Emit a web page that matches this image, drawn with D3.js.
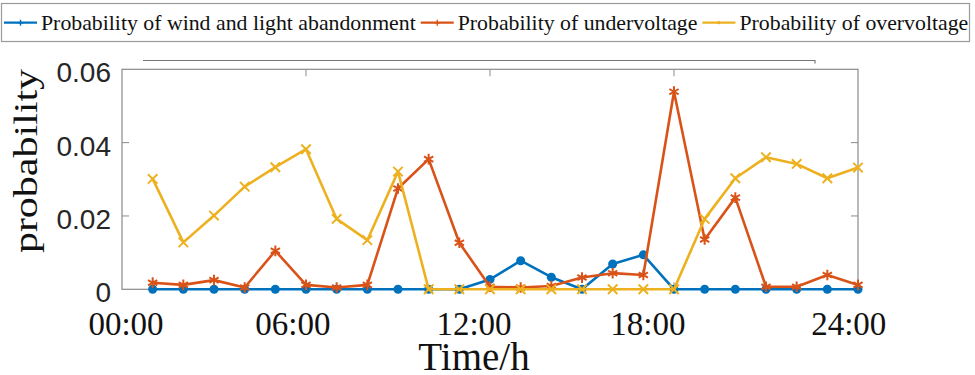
<!DOCTYPE html>
<html>
<head>
<meta charset="utf-8">
<script src="https://cdn.jsdelivr.net/npm/d3@7"></script>
<style>
body { margin: 0; background: #fff; }
</style>
</head>
<body>
<div id="chart"></div>
<script>
// hourly points, 1h .. 24h
var hours = [1, 2, 3, 4, 5, 6, 7, 8, 9, 10, 11, 12, 13, 14, 15, 16, 17, 18, 19, 20, 21, 22, 23, 24];
var abandon = [0, 0, 0, 0, 0, 0, 0, 0, 0, 0, 0, 0.0027, 0.0078, 0.0033, 0, 0.0069, 0.0094, 0, 0, 0, 0, 0, 0, 0];
var under = [0.0018, 0.0012, 0.0025, 0.0005, 0.0105, 0.0012, 0.0005, 0.0012, 0.0275, 0.0355, 0.0127, 0.0007,
    0.0005, 0.0009, 0.0032, 0.0044, 0.0039, 0.0539, 0.0136, 0.025, 0.0007, 0.0007, 0.0039, 0.0012];
var over = [0.0301, 0.0128, 0.0201, 0.028, 0.0333, 0.0382, 0.0192, 0.0134, 0.0321, 0, 0, 0,
    0, 0, 0, 0, 0, 0, 0.0192, 0.0303, 0.036, 0.0342, 0.0303, 0.0332];
var seriesNames = ["Probability of wind and light abandonment", "Probability of undervoltage", "Probability of overvoltage"];
var yTicks = [0, 0.02, 0.04, 0.06];
var yTickLabels = ["0", "0.02", "0.04", "0.06"];
var frameTicks = [6, 12, 18];
// the time labels sit a little off the grid in the original figure
var timeLabelPos = [0.13, 5.57, 11.48, 17.15, 23.7];
var timeLabels = ["00:00", "06:00", "12:00", "18:00", "24:00"];

function main() {
    var width = 975, height = 375;
    var colors = ["#0072BD", "#D95319", "#EDB120"];
    var serif = "'Liberation Serif', 'Times New Roman', serif";

    var svg = d3.select("#chart").append("svg")
        .attr("width", width)
        .attr("height", height);

    var x = d3.scaleLinear().domain([0, 24]).range([122, 858]);
    var y = d3.scaleLinear().domain([0, 0.06]).range([289.3, 69.3]);

    // stray line above the axes
    svg.append("path")
        .attr("d", "M143,60.5H815V63.5")
        .attr("fill", "none")
        .attr("stroke", "#777")
        .attr("stroke-width", 1.2);

    // axes box
    svg.append("rect")
        .attr("x", x(0)).attr("y", y(0.06))
        .attr("width", x(24) - x(0)).attr("height", y(0) - y(0.06))
        .attr("fill", "none")
        .attr("stroke", "#8a8a8a")
        .attr("stroke-width", 1.2);

    var tk = svg.append("g").attr("stroke", "#8a8a8a").attr("stroke-width", 1);
    frameTicks.forEach(function (h) {
        tk.append("line").attr("x1", x(h)).attr("x2", x(h)).attr("y1", y(0.06)).attr("y2", y(0.06) + 7);
        tk.append("line").attr("x1", x(h)).attr("x2", x(h)).attr("y1", y(0)).attr("y2", y(0) - 7);
    });
    yTicks.slice(1, 3).forEach(function (v) {
        tk.append("line").attr("x1", x(0)).attr("x2", x(0) + 7).attr("y1", y(v)).attr("y2", y(v));
        tk.append("line").attr("x1", x(24)).attr("x2", x(24) - 7).attr("y1", y(v)).attr("y2", y(v));
    });

    // y tick labels
    svg.append("g").selectAll("text")
        .data(yTicks)
        .enter().append("text")
        .attr("x", 111)
        .attr("y", function (d) { return y(d) + 13; })
        .attr("text-anchor", "end")
        .style("font-family", "'Liberation Sans', Arial, sans-serif")
        .style("font-size", "28px")
        .style("fill", "#262626")
        .text(function (d, i) { return yTickLabels[i]; });

    // x tick labels
    svg.append("g").selectAll("text")
        .data(timeLabelPos)
        .enter().append("text")
        .attr("x", function (d) { return x(d); })
        .attr("y", 335)
        .attr("text-anchor", "middle")
        .style("font-family", serif)
        .style("font-size", "33px")
        .style("fill", "#111")
        .text(function (d, i) { return timeLabels[i]; });

    svg.append("text")
        .attr("x", 474).attr("y", 370)
        .attr("text-anchor", "middle")
        .style("font-family", serif)
        .style("font-size", "39px")
        .style("fill", "#111")
        .text("Time/h");

    // y title is squashed across its baseline in the original
    svg.append("text")
        .attr("transform", "translate(37,161) rotate(-90) scale(1,0.8)")
        .attr("text-anchor", "middle")
        .style("font-family", serif)
        .style("font-size", "42px")
        .style("fill", "#111")
        .text("probability");

    // lines + markers
    var allSeries = [abandon, under, over];
    var symbols = [
        d3.symbol(d3.symbolCircle).size(64),
        d3.symbol(d3.symbolAsterisk || d3.symbolCross).size(80),
        d3.symbol(d3.symbolTimes || d3.symbolCross).size(60)
    ];
    var line = d3.line()
        .x(function (d, i) { return x(hours[i]); })
        .y(function (d) { return y(d); });

    allSeries.forEach(function (vals, k) {
        var g = svg.append("g");
        g.append("path")
            .datum(vals)
            .attr("d", line)
            .attr("fill", "none")
            .attr("stroke", colors[k])
            .attr("stroke-width", 2.6)
            .attr("stroke-linejoin", "round");
        g.selectAll("path.mk")
            .data(vals)
            .enter().append("path")
            .attr("class", "mk")
            .attr("transform", function (d, i) { return "translate(" + x(hours[i]) + "," + y(d) + ")"; })
            .attr("d", symbols[k])
            .attr("fill", k == 0 ? colors[k] : "none")
            .attr("stroke", colors[k])
            .attr("stroke-width", k == 0 ? 0 : 2);
    });

    // legend
    var leg = svg.append("g");
    leg.append("rect")
        .attr("x", 1.5).attr("y", 3.5)
        .attr("width", 968).attr("height", 38)
        .attr("fill", "#fff")
        .attr("stroke", "#9a9a9a")
        .attr("stroke-width", 1.2);
    var lx = 4;
    seriesNames.forEach(function (name, k) {
        leg.append("line")
            .attr("x1", lx).attr("x2", lx + 33)
            .attr("y1", 22.7).attr("y2", 22.7)
            .attr("stroke", colors[k])
            .attr("stroke-width", 2.2);
        leg.append("path")
            .attr("transform", "translate(" + (lx + 16.5) + ",22.7)")
            .attr("d", k == 2 ? d3.symbol(d3.symbolCircle).size(8) : d3.symbol(d3.symbolPlus || d3.symbolCross).size(14))
            .attr("fill", k == 2 ? colors[k] : "none")
            .attr("stroke", colors[k])
            .attr("stroke-width", k == 2 ? 0 : 1.4);
        var t = leg.append("text")
            .attr("x", lx + 37).attr("y", 29.5)
            .style("font-family", serif)
            .style("font-size", "21.8px")
            .style("fill", "#111")
            .text(name);
        lx = lx + 37 + t.node().getComputedTextLength() + 5;
    });
}

main();
</script>
</body>
</html>
